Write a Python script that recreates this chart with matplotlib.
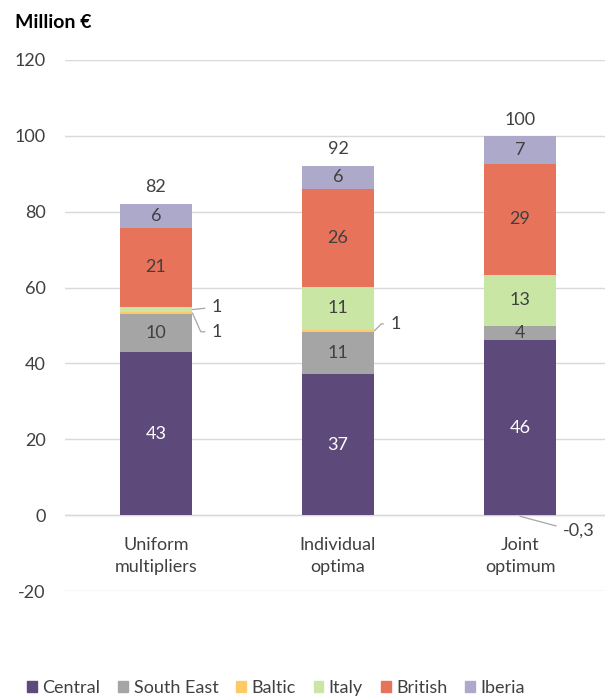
import matplotlib
matplotlib.use('Agg')
import matplotlib.pyplot as plt
from matplotlib.patches import Patch
import numpy as np

plt.rcParams['font.family'] = ['Lato', 'DejaVu Sans']
plt.rcParams['axes.unicode_minus'] = False

# values (million EUR)
categories = ["Uniform\nmultipliers", "Individual\noptima", "Joint\noptimum"]
series_names = ["Central", "South East", "Baltic", "Italy", "British", "Iberia"]
central = [43.0, 37.1, 46.2]
south_east = [10.0, 11.2, 3.8]
baltic = [0.6, 0.6, -0.3]
italy = [1.2, 11.2, 13.3]
british = [21.0, 25.9, 29.4]
iberia = [6.2, 6.1, 7.2]
totals = [82, 92, 100]

colors = ["#5D4A7B", "#A5A5A5", "#FFC965", "#C9E6A5", "#E8735B", "#ADA9CB"]
txt = "#404040"

fig = plt.figure(figsize=(6.05, 6.96), dpi=100)
ax = fig.add_axes([65/605, 1 - 591/696, 546/605, 531/696])

x = np.arange(len(categories))
series = [central, south_east, baltic, italy, british, iberia]
pos_base = np.zeros(len(x))
neg_base = np.zeros(len(x))
segs = []  # (series idx, cat idx, bottom, value)
for si, vals in enumerate(series):
    vals = np.array(vals)
    bottoms = np.where(vals >= 0, pos_base, neg_base)
    ax.bar(x, vals, 0.4, bottom=bottoms, color=colors[si], zorder=3)
    for ci, v in enumerate(vals):
        segs.append((si, ci, bottoms[ci], v))
    pos_base = pos_base + np.where(vals >= 0, vals, 0)
    neg_base = neg_base + np.where(vals < 0, vals, 0)

# labels inside the segments
for si, ci, b, v in segs:
    if abs(v) < 2:
        continue
    ax.text(ci, b + v / 2, f"{v:.0f}", ha='center', va='center', fontsize=13,
            color='white' if si == 0 else txt, zorder=4)

# small segments get leader lines (offsets in points)
lead = {
    (3, 0): (14, 1.5, 0, None),
    (2, 0): (14, -13.5, 0, -66),
    (2, 1): (11.5, 5, 0, 45),
    (2, 2): (31, -10, 0, -15),
}
for si, ci, b, v in segs:
    if (si, ci) not in lead:
        continue
    dx, dy, aa, ab = lead[(si, ci)]
    label = f"{v:.0f}" if v >= 0.5 else f"{v:.1f}".replace('.', ',')
    xy = (ci + 0.2, b + v / 2) if si != 2 or ci != 2 else (ci, b + v)
    cs = "arc3" if ab is None else f"angle,angleA={aa},angleB={ab},rad=0"
    ax.annotate(label, xy=xy, xytext=(dx, dy), textcoords='offset points',
                ha='left', va='center', fontsize=13, color=txt,
                arrowprops=dict(arrowstyle='-', color='#A6A6A6', lw=0.9,
                                shrinkA=3, shrinkB=0, relpos=(0, 0.5),
                                connectionstyle=cs), zorder=5)

# totals above bars
for ci, t in enumerate(totals):
    ax.annotate(f"{t}", xy=(ci, pos_base[ci]), xytext=(0, 12), textcoords='offset points',
                ha='center', va='center', fontsize=13, color=txt)

# category labels sit below the zero line
for ci, c in enumerate(categories):
    ax.annotate(c, xy=(ci, 0), xytext=(0, -16), textcoords='offset points',
                ha='center', va='top', fontsize=13, color=txt, linespacing=1.45)

ax.set_xlim(-0.5, 2.5)
ax.set_ylim(-20, 120)
ax.set_yticks(np.arange(-20, 121, 20))
ax.set_xticks([])
ax.tick_params(axis='y', length=0, pad=14, labelsize=13, labelcolor=txt)
ax.grid(axis='y', color='#D9D9D9', lw=1, zorder=0)
ax.axhline(0, color='#D9D9D9', lw=1, zorder=1)
for s in ax.spines.values():
    s.set_visible(False)

fig.text(15/605, 1 - 22/696, "Million €", fontsize=14, fontweight='bold',
         ha='left', va='center', color='black')

handles = [Patch(color=c) for c in colors]
fig.legend(handles, series_names, ncol=6, loc='center left',
           bbox_to_anchor=(11/605, 1 - 688/696), frameon=False, fontsize=13,
           handlelength=0.55, handleheight=0.55, handletextpad=0.3,
           columnspacing=0.98, labelcolor=txt)

fig.savefig("out.png", dpi=100)
